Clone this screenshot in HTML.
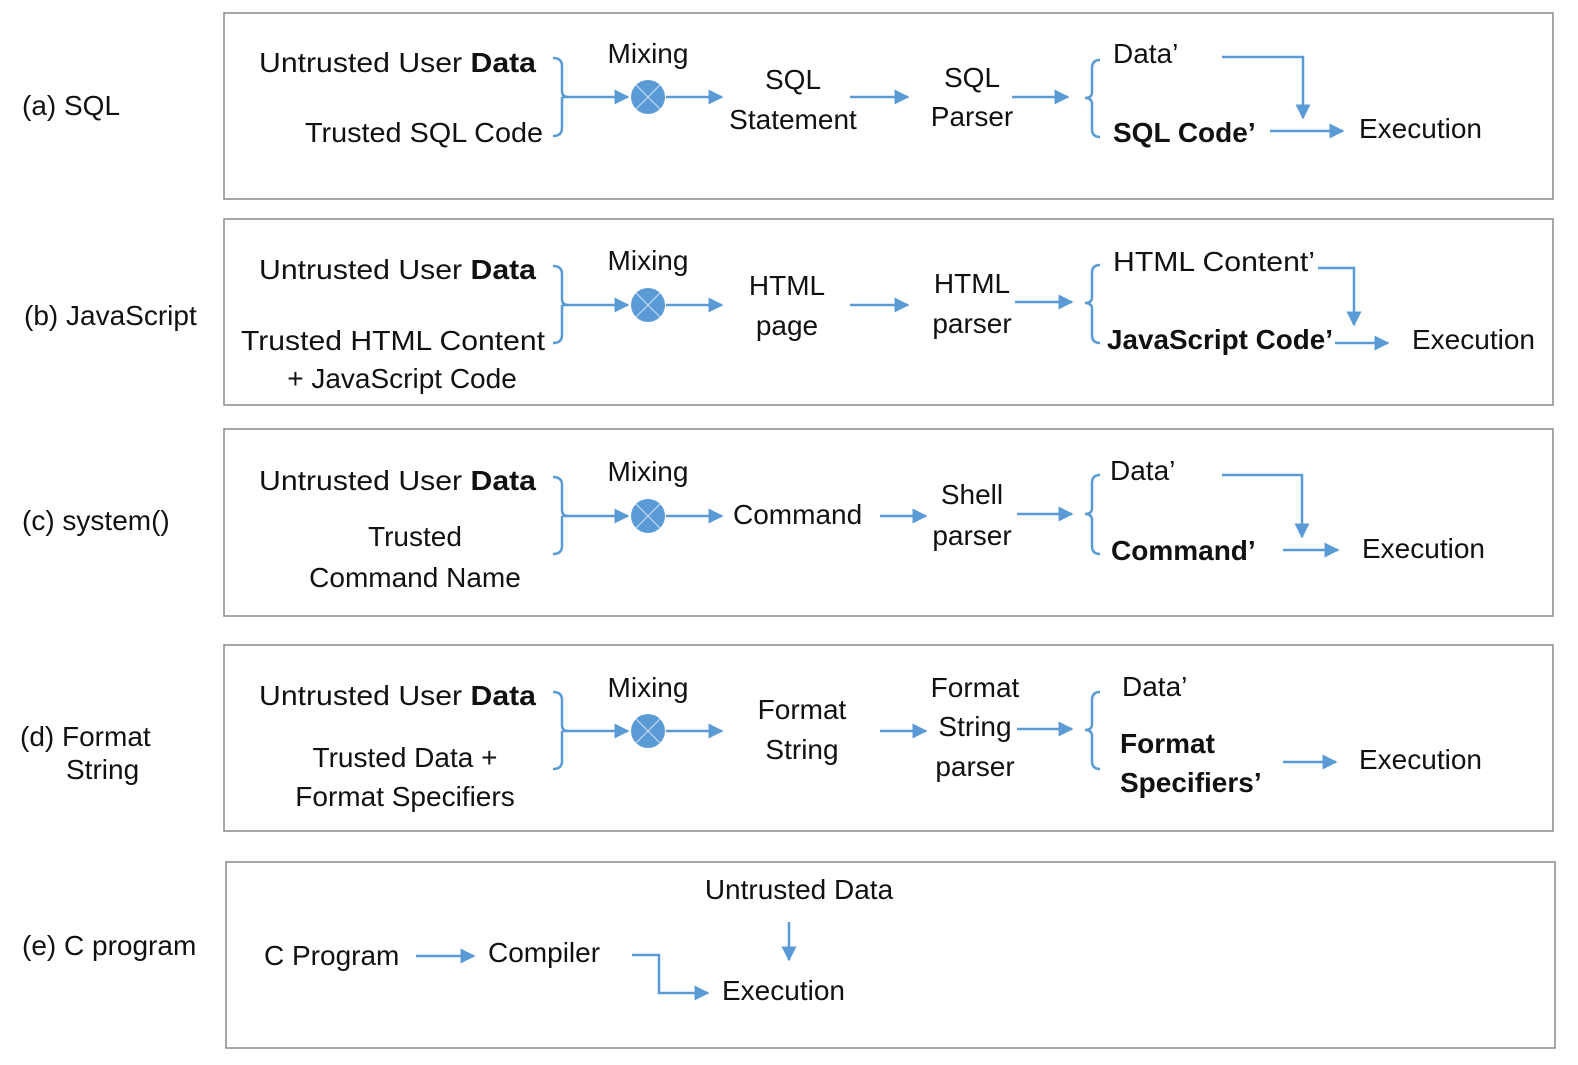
<!DOCTYPE html>
<html><head><meta charset="utf-8"><style>
html,body{margin:0;padding:0;background:#fff;overflow:hidden;width:1578px;height:1065px;}
svg{display:block;}
text{font-family:"Liberation Sans",sans-serif;font-size:28px;fill:#111;}
.b{font-weight:bold;}
.l{stroke:#5b9bd5;stroke-width:2.5;fill:none;}
.a{stroke:#5b9bd5;stroke-width:2.5;fill:none;marker-end:url(#ah);}
.box{fill:#fff;stroke:#8a8a8a;stroke-width:1.5;}
</style></head><body>
<svg width="1578" height="1065" viewBox="0 0 1578 1065" xmlns="http://www.w3.org/2000/svg">
<defs>
<marker id="ah" viewBox="0 0 10 10" refX="9" refY="5" markerWidth="6" markerHeight="6" markerUnits="strokeWidth" orient="auto"><path d="M0,0 L10,5 L0,10 z" fill="#5b9bd5"/></marker>
<g id="mix"><circle cx="0" cy="0" r="17" fill="#5b9bd5"/><path d="M-12,-12 L12,12 M12,-12 L-12,12" stroke="#cfe0f2" stroke-width="1"/></g>
</defs>
<rect class="box" x="224" y="13" width="1329" height="186"/>
<rect class="box" x="224" y="219" width="1329" height="186"/>
<rect class="box" x="224" y="429" width="1329" height="187"/>
<rect class="box" x="224" y="645" width="1329" height="186"/>
<rect class="box" x="226" y="862" width="1329" height="186"/>

<text x="22" y="115">(a) SQL</text>
<text x="24" y="325">(b) JavaScript</text>
<text x="22" y="530">(c) system()</text>
<text x="20" y="746">(d) Format</text>
<text x="66" y="779">String</text>
<text x="22" y="955">(e) C program</text>

<!-- (a) -->
<text x="536" y="72" text-anchor="end" textLength="277" lengthAdjust="spacingAndGlyphs">Untrusted User <tspan class="b">Data</tspan></text>
<text x="543" y="142" text-anchor="end" textLength="238" lengthAdjust="spacingAndGlyphs">Trusted SQL Code</text>
<path class="l" d="M553,58 Q562,58 562,66 L562,91 Q562,97 568,97 M562,97 L562,128 Q562,136 553,136"/>
<line class="a" x1="562" y1="97" x2="628" y2="97"/>
<use href="#mix" x="648" y="97"/>
<line class="a" x1="666" y1="97" x2="722" y2="97"/>
<text x="648" y="63" text-anchor="middle">Mixing</text>
<text x="793" y="89" text-anchor="middle">SQL</text>
<text x="793" y="129" text-anchor="middle">Statement</text>
<line class="a" x1="850" y1="97" x2="908" y2="97"/>
<text x="972" y="87" text-anchor="middle">SQL</text>
<text x="972" y="126" text-anchor="middle">Parser</text>
<line class="a" x1="1012" y1="97" x2="1068" y2="97"/>
<path class="l" d="M1100,60 Q1092,60 1092,68 L1092,92 Q1092,98 1085,98 Q1092,98 1092,104 L1092,129 Q1092,137 1100,137"/>
<text x="1113" y="63">Data’</text>
<polyline class="a" points="1222,57 1303,57 1303,118"/>
<text class="b" x="1113" y="142">SQL Code’</text>
<line class="a" x1="1270" y1="131" x2="1343" y2="131"/>
<text x="1359" y="138">Execution</text>

<!-- (b) -->
<text x="536" y="279" text-anchor="end" textLength="277" lengthAdjust="spacingAndGlyphs">Untrusted User <tspan class="b">Data</tspan></text>
<text x="545" y="350" text-anchor="end" textLength="304" lengthAdjust="spacingAndGlyphs">Trusted HTML Content</text>
<text x="402" y="388" text-anchor="middle">+ JavaScript Code</text>
<path class="l" d="M553,266 Q562,266 562,274 L562,299 Q562,305 568,305 M562,305 L562,335 Q562,343 553,343"/>
<line class="a" x1="562" y1="305" x2="628" y2="305"/>
<use href="#mix" x="648" y="305"/>
<line class="a" x1="666" y1="305" x2="722" y2="305"/>
<text x="648" y="270" text-anchor="middle">Mixing</text>
<text x="787" y="295" text-anchor="middle">HTML</text>
<text x="787" y="335" text-anchor="middle">page</text>
<line class="a" x1="850" y1="305" x2="908" y2="305"/>
<text x="972" y="293" text-anchor="middle">HTML</text>
<text x="972" y="333" text-anchor="middle">parser</text>
<line class="a" x1="1015" y1="302" x2="1072" y2="302"/>
<path class="l" d="M1100,265 Q1092,265 1092,273 L1092,297 Q1092,303 1085,303 Q1092,303 1092,309 L1092,335 Q1092,343 1100,343"/>
<text x="1113" y="271" textLength="202" lengthAdjust="spacingAndGlyphs">HTML Content’</text>
<polyline class="a" points="1318,268 1354,268 1354,325"/>
<text class="b" x="1107" y="349" textLength="226" lengthAdjust="spacingAndGlyphs">JavaScript Code’</text>
<line class="a" x1="1335" y1="343" x2="1388" y2="343"/>
<text x="1412" y="349">Execution</text>

<!-- (c) -->
<text x="536" y="490" text-anchor="end" textLength="277" lengthAdjust="spacingAndGlyphs">Untrusted User <tspan class="b">Data</tspan></text>
<text x="415" y="546" text-anchor="middle">Trusted</text>
<text x="415" y="587" text-anchor="middle">Command Name</text>
<path class="l" d="M553,477 Q562,477 562,485 L562,510 Q562,516 568,516 M562,516 L562,546 Q562,554 553,554"/>
<line class="a" x1="562" y1="516" x2="628" y2="516"/>
<use href="#mix" x="648" y="516"/>
<line class="a" x1="666" y1="516" x2="722" y2="516"/>
<text x="648" y="481" text-anchor="middle">Mixing</text>
<text x="733" y="524">Command</text>
<line class="a" x1="880" y1="516" x2="926" y2="516"/>
<text x="972" y="504" text-anchor="middle">Shell</text>
<text x="972" y="545" text-anchor="middle">parser</text>
<line class="a" x1="1017" y1="514" x2="1072" y2="514"/>
<path class="l" d="M1100,475 Q1092,475 1092,483 L1092,508 Q1092,514 1085,514 Q1092,514 1092,520 L1092,546 Q1092,554 1100,554"/>
<text x="1110" y="480">Data’</text>
<polyline class="a" points="1222,475 1302,475 1302,537"/>
<text class="b" x="1111" y="560">Command’</text>
<line class="a" x1="1283" y1="550" x2="1338" y2="550"/>
<text x="1362" y="558">Execution</text>

<!-- (d) -->
<text x="536" y="705" text-anchor="end" textLength="277" lengthAdjust="spacingAndGlyphs">Untrusted User <tspan class="b">Data</tspan></text>
<text x="405" y="767" text-anchor="middle">Trusted Data +</text>
<text x="405" y="806" text-anchor="middle">Format Specifiers</text>
<path class="l" d="M553,692 Q562,692 562,700 L562,725 Q562,731 568,731 M562,731 L562,761 Q562,769 553,769"/>
<line class="a" x1="562" y1="731" x2="628" y2="731"/>
<use href="#mix" x="648" y="731"/>
<line class="a" x1="666" y1="731" x2="722" y2="731"/>
<text x="648" y="697" text-anchor="middle">Mixing</text>
<text x="802" y="719" text-anchor="middle">Format</text>
<text x="802" y="759" text-anchor="middle">String</text>
<line class="a" x1="880" y1="731" x2="926" y2="731"/>
<text x="975" y="697" text-anchor="middle">Format</text>
<text x="975" y="736" text-anchor="middle">String</text>
<text x="975" y="776" text-anchor="middle">parser</text>
<line class="a" x1="1017" y1="729" x2="1072" y2="729"/>
<path class="l" d="M1100,692 Q1092,692 1092,700 L1092,724 Q1092,730 1085,730 Q1092,730 1092,736 L1092,761 Q1092,769 1100,769"/>
<text x="1122" y="696">Data’</text>
<text class="b" x="1120" y="753">Format</text>
<text class="b" x="1120" y="792">Specifiers’</text>
<line class="a" x1="1283" y1="762" x2="1336" y2="762"/>
<text x="1359" y="769">Execution</text>

<!-- (e) -->
<text x="799" y="899" text-anchor="middle">Untrusted Data</text>
<line class="a" x1="789" y1="922" x2="789" y2="960"/>
<text x="264" y="965">C Program</text>
<line class="a" x1="416" y1="956" x2="474" y2="956"/>
<text x="488" y="962">Compiler</text>
<polyline class="a" points="632,955 659,955 659,993 708,993"/>
<text x="722" y="1000">Execution</text>
</svg>
</body></html>
